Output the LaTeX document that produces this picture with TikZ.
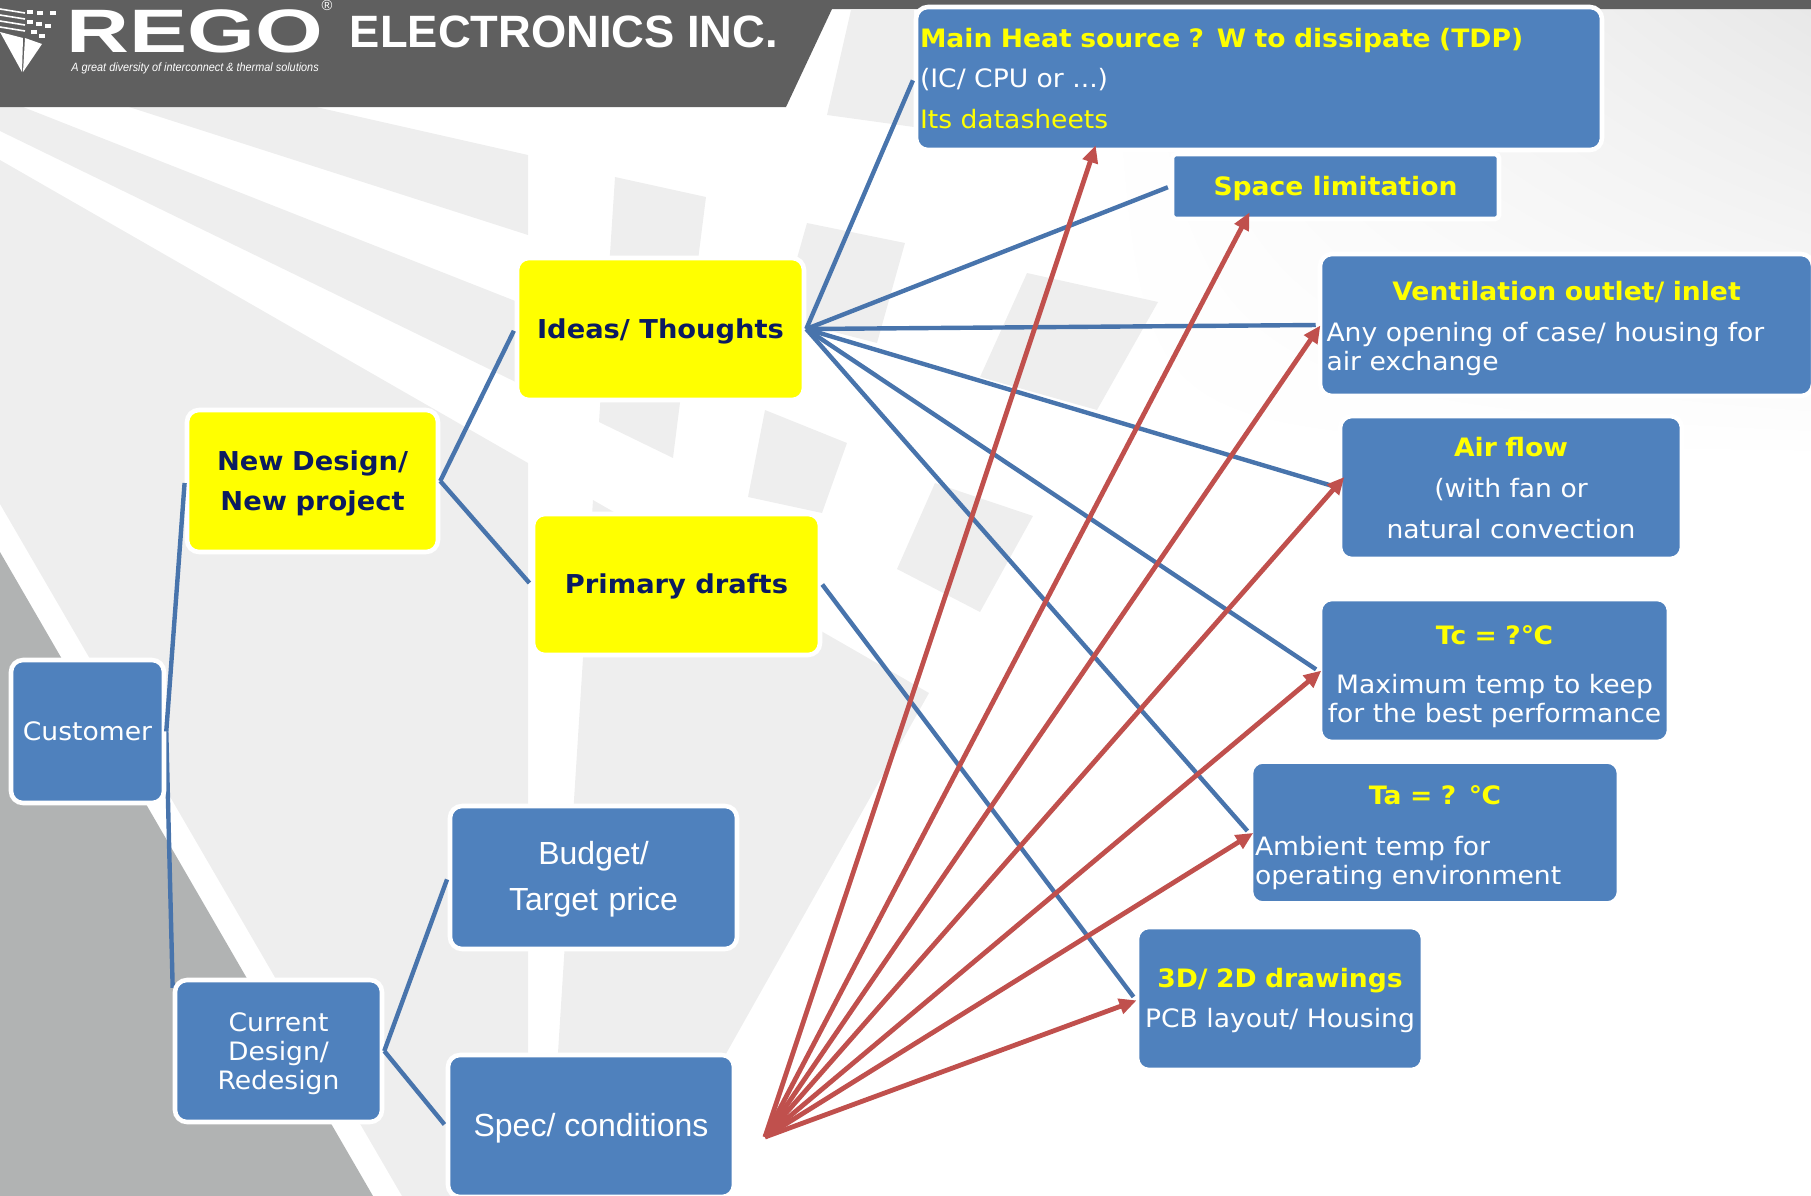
\documentclass[tikz,border=0pt]{standalone}
\usepackage{fontspec}
\usepackage{graphicx}
\setmainfont[FakeStretch=1.05]{DejaVu Sans}
\newfontfamily\arialfont{Liberation Sans}
\usetikzlibrary{arrows.meta,shadings,backgrounds}

\definecolor{boxblue}{HTML}{4F81BD}
\definecolor{linkblue}{HTML}{4874AC}
\definecolor{arrowred}{HTML}{C0504D}
\definecolor{titleyellow}{HTML}{FFFF00}
\definecolor{navytext}{HTML}{0B1B60}
\definecolor{headgray}{HTML}{5F5F5F}
\definecolor{raygray}{HTML}{EEEEEE}
\definecolor{darkgray}{HTML}{B1B3B3}

\newcommand{\headtext}[1]{{\bfseries\color{titleyellow}#1}}
\newcommand{\wholeline}[1]{\hspace*{\fill}#1\hspace*{\fill}\null}

\tikzset{
	every picture/.style={line width=0.75pt},
	boxsize/.style 2 args={minimum width=#1*0.75pt,minimum height=#2*0.75pt},
	basebox/.style={draw=white,line width=3.4pt,rounded corners=9pt,inner sep=3pt,text=white,
		font=\fontsize{19}{21.75}\selectfont},
	bluebox/.style={basebox,fill=boxblue},
	yellowbox/.style={basebox,fill=titleyellow,text=navytext,align=center,
		font=\fontsize{19.5}{30}\selectfont\bfseries},
	arialbox/.style={bluebox,align=center,font=\arialfont\fontsize{24}{34.5}\selectfont},
	bluelink/.style={draw=linkblue,line width=3.3pt,shorten >=1.5pt},
	redarrow/.style={draw=arrowred,line width=3.6pt,-{Triangle[length=13pt,width=11.5pt]}},
	ray/.style={fill=raygray,draw=none},
}

\begin{document}
\begin{tikzpicture}[x=0.75pt,y=0.75pt,yscale=-1]
	\useasboundingbox (0,0) rectangle (1811,1196);
	
	%background
	\begin{scope}[on background layer]
	\shade[upper left=white,upper right=black!9,lower left=white,lower right=white] (1100,9) rectangle (1811,460);
	\fill[darkgray] (0,552) -- (373,1196) -- (0,1196) -- cycle;
	\path[ray] (0,160) -- (528,463) -- (528,1196) -- (402,1196) -- (0,504) -- cycle;
	\path[ray] (129,107) -- (316,107) -- (528,155) -- (528,235) -- cycle;
	\path[ray] (23,107) -- (528,306) -- (528,388) -- (0,131) -- (0,107) -- cycle;
	\path[ray] (615,177) -- (706,197) -- (673,458) -- (599,422) -- cycle;
	\path[ray] (807,223) -- (905,243) -- (877,343) -- (780,318) -- cycle;
	\path[ray] (765,410) -- (847,443) -- (822,513) -- (748,497) -- cycle;
	\path[ray] (851,10) -- (914,10) -- (914,127) -- (827,115) -- cycle;
	\path[ray] (1027,273) -- (1158,302) -- (1097,410) -- (980,377) -- cycle;
	\path[ray] (935,483) -- (1033,516) -- (980,612) -- (897,569) -- cycle;
	\path[ray] (593,500) -- (929,693) -- (700,1100) -- (555,1100) -- cycle;
	\end{scope}
	
	%header
	\fill[headgray] (0,0) -- (1811,0) -- (1811,9) -- (832,9) -- (786,107) -- (0,107) -- cycle;
	\fill[white] (0,32) -- (23,38) -- (22,72) -- cycle;
	\fill[white] (25,38) -- (42,44) -- (23,72) -- cycle;
	\foreach \yy in {9,15,21,27} \draw[white,line width=1.2pt] (0,\yy) -- (25,\yy+4);
	\foreach \xx/\yy in {27/10,37/11,50/11,27/20,36/22,45/24,31/30,39/34} \fill[white] (\xx,\yy) rectangle (\xx+6,\yy+4);
	\node (rego) at (195,31) [text=white,inner sep=0pt] {\scalebox{1.42}[1]{\arialfont\fontsize{46}{46}\selectfont\bfseries REGO}};
	\node (regomark) at (327,5) [text=white,inner sep=0pt] {\arialfont\fontsize{11}{11}\selectfont ®};
	\node (tagline) at (195,68) [text=white,inner sep=0pt] {\scalebox{0.905}[1]{\arialfont\fontsize{9}{9}\selectfont\itshape A great diversity of interconnect \& thermal solutions}};
	\node (company) at (564,32) [text=white,inner sep=0pt] {\arialfont\fontsize{34}{34}\selectfont\bfseries ELECTRONICS INC.};
	
	%boxes
	\node (customer) at (87.5,731.5) [bluebox,boxsize={153}{143},align=center] {Customer};
	\node (newdesign) at (312.5,481) [yellowbox,boxsize={251}{142},text width=170pt,text height=18.5pt] {New Design/\\New project};
	\node (ideas) at (660.5,329) [yellowbox,boxsize={287}{142},text height=19pt] {Ideas/ Thoughts};
	\node (drafts) at (676.5,584.5) [yellowbox,boxsize={287}{141},text height=18pt] {Primary drafts};
	\node (budget) at (593.5,877.5) [arialbox,boxsize={287}{143},text width=200pt,text height=20pt] {Budget/\\Target price};
	\node (current) at (278.5,1051) [bluebox,boxsize={207}{142},align=center,text width=140pt,text height=18pt] {Current\\Design/\\Redesign};
	\node (spec) at (591,1126) [arialbox,boxsize={286}{142},text height=21pt] {Spec/ conditions};
	\node (mainheat) at (1259,78.5) [bluebox,boxsize={686}{143},align=left,text width=508.5pt] {\headtext{Main Heat source ? W to dissipate (TDP)}\\[8.6pt](IC/ CPU or ...)\\[8.6pt]{\color{titleyellow}Its datasheets}};
	\node (space) at (1335.5,186.5) [bluebox,boxsize={327}{65},rounded corners=3pt,align=center,text height=17pt] {\headtext{Space limitation}};
	\node (vent) at (1566.5,325) [bluebox,boxsize={493}{142},align=left,text width=360pt,text height=20pt] {\wholeline{\headtext{Ventilation outlet/ inlet}}\\[9pt]Any opening of case/ housing for\\air exchange};
	\node (airflow) at (1511,487.5) [bluebox,boxsize={342}{143},align=center,text width=240pt,text height=16pt] {\headtext{Air flow}\\[9pt](with fan or\\[9pt]natural convection};
	\node (tc) at (1494.5,670.5) [bluebox,boxsize={349}{143},align=center,text width=254pt,text height=23.5pt] {\headtext{Tc = ?℃}\\[15.5pt]Maximum temp to keep\\for the best performance};
	\node (ta) at (1435,832.5) [bluebox,boxsize={368}{142},align=left,text width=270pt,text height=22pt] {\wholeline{\headtext{Ta = ? ℃}}\\[16pt]Ambient temp for\\operating environment};
	\node (drawings) at (1280,998.5) [bluebox,boxsize={286}{143},align=center,text width=205pt,text height=17pt] {\headtext{3D/ 2D drawings}\\[8pt]PCB layout/ Housing};
	\coordinate (fan) at (765,1137);
	
	%links
	\begin{scope}[on background layer]
	\draw[bluelink] (customer.east) -- (current.150);
	\end{scope}
	\draw[bluelink] (customer.east) -- (newdesign.west);
	\draw[bluelink] (newdesign.east) -- (ideas.west);
	\draw[bluelink] (newdesign.east) -- (drafts.west);
	\draw[bluelink] (current.east) -- (budget.west);
	\draw[bluelink] (current.east) -- (spec.west);
	\foreach \target in {mainheat,space,vent,airflow,tc,ta}
		\draw[bluelink] (ideas.east) -- (\target.west);
	\draw[bluelink] (drafts.east) -- (drawings.west);
	\foreach \target/\extra in {mainheat.204/5.5,space.201/7.5,vent.181/3.5,airflow.179/7.5,tc.181/3.5,ta.181/4,drawings.181/1.5}
		\draw[redarrow,shorten >=-\extra pt] (fan) -- (\target);
\end{tikzpicture}
\end{document}
